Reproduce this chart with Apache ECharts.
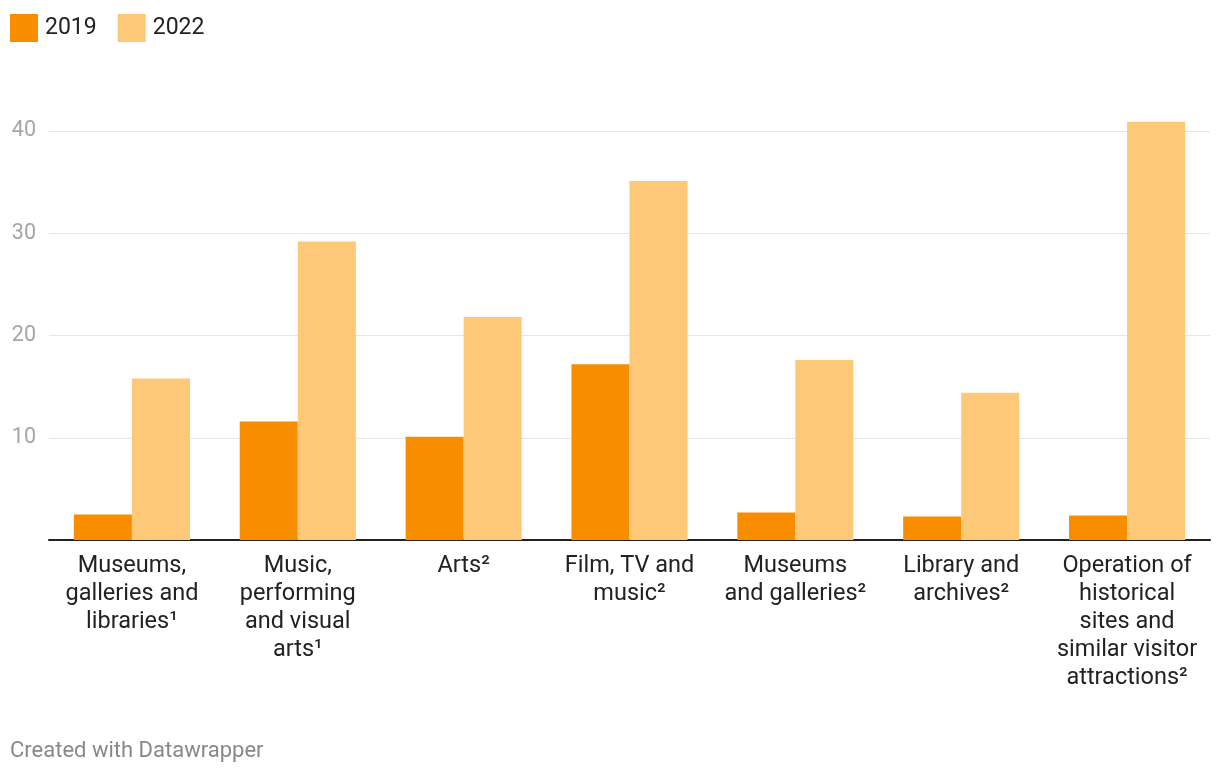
<!DOCTYPE html>
<html>
<head>
<meta charset="utf-8">
<script src="https://cdn.jsdelivr.net/npm/echarts@6/dist/echarts.min.js"></script>
<style>
html,body{margin:0;padding:0;background:#fff;}
#chart{width:1220px;height:774px;}
</style>
</head>
<body>
<div id="chart"></div>
<script>
const categories = [
  "Museums,\ngalleries and\nlibraries¹",
  "Music,\nperforming\nand visual\narts¹",
  "Arts²",
  "Film, TV and\nmusic²",
  "Museums\nand galleries²",
  "Library and\narchives²",
  "Operation of\nhistorical\nsites and\nsimilar visitor\nattractions²"
];
const seriesNames = ["2019", "2022"];
const values2019 = [2.5, 11.6, 10.1, 17.2, 2.7, 2.3, 2.4];
const values2022 = [15.8, 29.2, 21.8, 35.1, 17.6, 14.4, 40.9];
const yTicks = [0, 10, 20, 30, 40];

const chart = echarts.init(document.getElementById('chart'), null, {renderer: 'canvas'});
const font = 'Roboto, "Noto Sans", sans-serif';
chart.setOption({
  animation: false,
  textStyle: {fontFamily: font},
  color: ['#f98d00', '#fdc979'],
  legend: {
    left: 5, top: 9,
    itemWidth: 28, itemHeight: 28, itemGap: 21,
    icon: 'rect',
    textStyle: {fontSize: 23, color: '#222', fontFamily: font, padding: [0,0,0,2]},
    data: seriesNames
  },
  title: {
    text: 'Created with Datawrapper',
    left: 5, bottom: 7,
    textStyle: {fontSize: 22, fontWeight: 'normal', color: '#888', fontFamily: font}
  },
  grid: {left: 49, right: 10, top: 131, bottom: 234, containLabel: false},
  xAxis: {
    type: 'category',
    data: categories,
    axisTick: {show: false},
    axisLine: {lineStyle: {color: '#222', width: 2}},
    axisLabel: {
      interval: 0, fontSize: 23.5, lineHeight: 28, color: '#222', margin: 12,
      fontFamily: font, align: 'center'
    }
  },
  yAxis: {
    type: 'value',
    min: yTicks[0], max: yTicks[yTicks.length-1], interval: 10,
    axisLine: {show: false},
    axisTick: {show: false},
    splitLine: {lineStyle: {color: '#e6e6e6', width: 1}},
    axisLabel: {
      fontSize: 21.5, color: '#a5a5a5', margin: 13, fontFamily: font,
      formatter: v => v === 0 ? '' : String(v)
    }
  },
  series: [
    {name: seriesNames[0], type: 'bar', data: values2019, barGap: '0%', barCategoryGap: '30%', clip: false},
    {name: seriesNames[1], type: 'bar', data: values2022, barGap: '0%', barCategoryGap: '30%', clip: false}
  ]
});
</script>
</body>
</html>
